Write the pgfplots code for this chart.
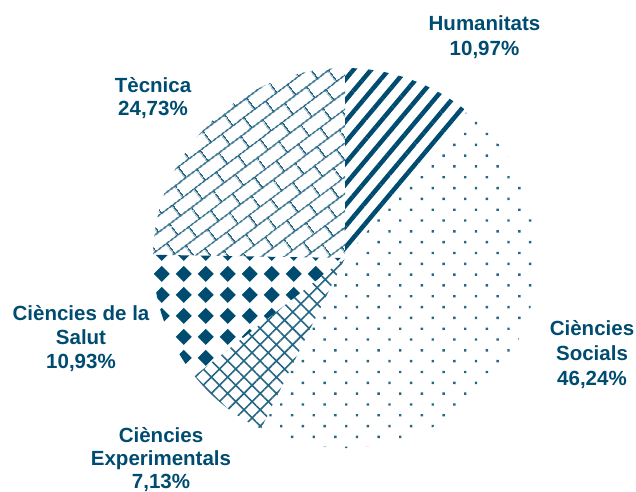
\documentclass[border=0pt]{standalone}
\usepackage{pgfplots}
\pgfplotsset{compat=1.18}
\usepackage{pgfplotstable}
\usepackage{fontspec}
\setmainfont{Liberation Sans}
\usetikzlibrary{patterns.meta}
\definecolor{piecol}{RGB}{0,76,112}

\tikzdeclarepattern{
  name=bricks,
  type=uncolored,
  bottom left={(0pt,0pt)}, top right={(28pt,27pt)},
  tile size={(28pt,27pt)},
  tile transformation={rotate=37},
  code={
    \pgfsetlinewidth{1.6pt}
    \pgfpathmoveto{\pgfpoint{0pt}{3pt}}\pgfpathlineto{\pgfpoint{28pt}{3pt}}
    \pgfpathmoveto{\pgfpoint{0pt}{16.5pt}}\pgfpathlineto{\pgfpoint{28pt}{16.5pt}}
    \pgfpathmoveto{\pgfpoint{3pt}{3pt}}\pgfpathlineto{\pgfpoint{3pt}{16.5pt}}
    \pgfpathmoveto{\pgfpoint{17pt}{16.5pt}}\pgfpathlineto{\pgfpoint{17pt}{27pt}}
    \pgfpathmoveto{\pgfpoint{17pt}{0pt}}\pgfpathlineto{\pgfpoint{17pt}{3pt}}
    \pgfusepath{stroke}
  }
}
\tikzdeclarepattern{
  name=diamonds,
  type=uncolored,
  bottom left={(0pt,0pt)}, top right={(21.7pt,20.6pt)},
  tile size={(21.7pt,20.6pt)},
  code={
    \pgfpathmoveto{\pgfpoint{10.85pt}{2.2pt}}
    \pgfpathlineto{\pgfpoint{19pt}{10.3pt}}
    \pgfpathlineto{\pgfpoint{10.85pt}{18.4pt}}
    \pgfpathlineto{\pgfpoint{2.7pt}{10.3pt}}
    \pgfpathclose
    \pgfusepath{fill}
  }
}

\pgfplotstableread{
label share
Humanitats 10.97
Socials 46.24
Experimentals 7.13
Salut 10.93
Tecnica 24.73
}\piedata

\begin{document}
\begin{tikzpicture}[font=\fontsize{20.5}{24}\selectfont\bfseries]
\pgfplotstablegetelem{0}{share}\of\piedata \let\sA\pgfplotsretval
\pgfplotstablegetelem{1}{share}\of\piedata \let\sB\pgfplotsretval
\pgfplotstablegetelem{2}{share}\of\piedata \let\sC\pgfplotsretval
\pgfplotstablegetelem{3}{share}\of\piedata \let\sD\pgfplotsretval
\pgfplotstablegetelem{4}{share}\of\piedata \let\sE\pgfplotsretval
\pgfmathsetmacro\aA{90}
\pgfmathsetmacro\aB{\aA-3.6*\sA}
\pgfmathsetmacro\aC{\aB-3.6*\sB}
\pgfmathsetmacro\aD{\aC-3.6*\sC}
\pgfmathsetmacro\aE{\aD-3.6*\sD}
\pgfmathsetmacro\aF{\aE-3.6*\sE}
\begin{axis}[
  x=1pt, y=1pt, xmin=0, xmax=636, ymin=0, ymax=491,
  y dir=reverse, hide axis, clip=false, scale only axis,
]
\path (axis cs:0,0) rectangle (axis cs:636,491);
% Humanitats
\fill[pattern={Lines[angle=50,distance=13.5pt,line width=4.5pt]}, pattern color=piecol]
  (axis cs:345,258) -- +(\aA:192pt and 190pt) arc[start angle=\aA, end angle=\aB, x radius=192pt, y radius=190pt] -- cycle;
% Socials
\fill[pattern={Dots[angle=45,distance=15.3pt,radius=1.7pt]}, pattern color=piecol!85]
  (axis cs:345,258) -- +(\aB:192pt and 190pt) arc[start angle=\aB, end angle=\aC, x radius=192pt, y radius=190pt] -- cycle;
% Experimentals
\fill[pattern={Hatch[angle=45,distance=11.5pt,line width=1.6pt]}, pattern color=piecol!85]
  (axis cs:345,258) -- +(\aC:192pt and 190pt) arc[start angle=\aC, end angle=\aD, x radius=192pt, y radius=190pt] -- cycle;
% Salut
\fill[pattern=diamonds, pattern color=piecol]
  (axis cs:345,258) -- +(\aD:192pt and 190pt) arc[start angle=\aD, end angle=\aE, x radius=192pt, y radius=190pt] -- cycle;
% Tecnica
\fill[pattern=bricks, pattern color=piecol!85]
  (axis cs:345,258) -- +(\aE:192pt and 190pt) arc[start angle=\aE, end angle=\aF, x radius=192pt, y radius=190pt] -- cycle;

\begin{scope}[every node/.style={text=piecol, anchor=base, inner sep=0pt}]
\node at (axis cs:484.5,30) {Humanitats};
\node at (axis cs:484.5,55) {10,97\%};
\node at (axis cs:153,92) {Tècnica};
\node at (axis cs:153,115) {24,73\%};
\node at (axis cs:81,320) {Ciències de la};
\node at (axis cs:81,344) {Salut};
\node at (axis cs:81,368) {10,93\%};
\node at (axis cs:592,335) {Ciències};
\node at (axis cs:592,360) {Socials};
\node at (axis cs:592,385) {46,24\%};
\node at (axis cs:161,442) {Ciències};
\node at (axis cs:161,465) {Experimentals};
\node at (axis cs:161,488) {7,13\%};
\end{scope}
\end{axis}
\pgfresetboundingbox
\path[use as bounding box] (current axis.south west) rectangle (current axis.north east);
\end{tikzpicture}
\end{document}
